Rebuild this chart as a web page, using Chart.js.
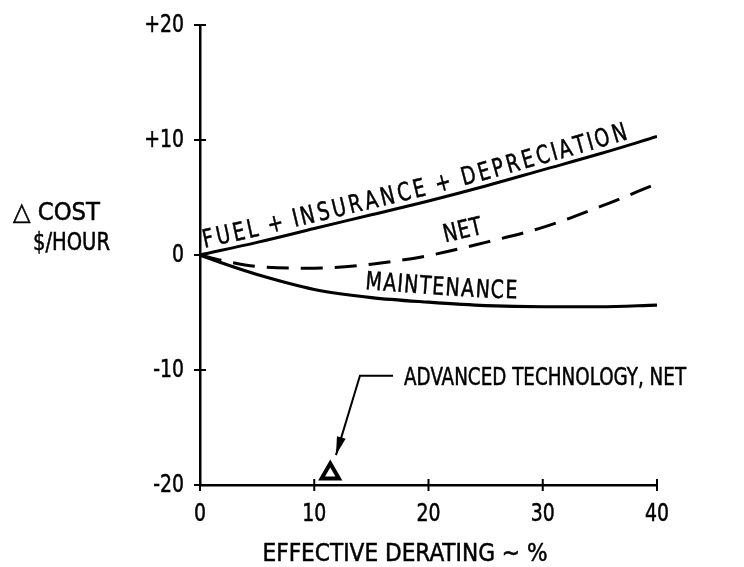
<!DOCTYPE html>
<html>
<head>
<meta charset="utf-8">
<script src="https://cdn.jsdelivr.net/npm/chart.js@4.4.1/dist/chart.umd.min.js"></script>
<style>
  html, body { margin: 0; padding: 0; background: #fff; }
  #wrap { width: 744px; height: 567px; }
</style>
</head>
<body>
<div id="wrap"><canvas id="c" width="744" height="567"></canvas></div>
<script>
// values
const fuelX = [0, 5, 10, 15, 20, 25, 30, 35, 40];
const fuelY = [0, 1.1, 2.3, 3.5, 4.7, 6.0, 7.4, 8.8, 10.3];
const netX = [0, 2.5, 5, 10, 15, 20, 25, 30, 35, 40];
const netY = [0, -0.6, -1.0, -1.15, -0.8, -0.05, 1.1, 2.4, 4.2, 6.2];
const maintX = [0, 2.5, 5, 10, 15, 20, 25, 30, 35, 40];
const maintY = [0, -0.9, -1.7, -3.0, -3.7, -4.1, -4.4, -4.5, -4.5, -4.35];
const advX = [11.4];
const advY = [-19.0];

const xTickValues = [0, 10, 20, 30, 40];
const xTickLabels = ['0', '10', '20', '30', '40'];
const yTickValues = [-20, -10, 0, 10, 20];
const yTickLabels = ['-20', '-10', '0', '+10', '+20'];

const FONT = '"DejaVu Sans Condensed", "Liberation Sans Narrow", sans-serif';
const SIZE = 25;   // cap height about 18px
const SQ = 0.84;   // lettering is narrow
const pts = (xs, ys) => xs.map((x, i) => ({ x, y: ys[i] }));

// text squeezed horizontally; y is the middle of the capitals
function put(ctx, text, x, y, align, width) {
  ctx.save();
  ctx.font = SIZE + 'px ' + FONT;
  ctx.textBaseline = 'alphabetic';
  ctx.textAlign = 'left';
  ctx.lineWidth = 0.5;
  const w = ctx.measureText(text).width;
  const sx = width ? width / w : SQ;
  const left = align === 'right' ? x - w * sx : align === 'center' ? x - w * sx / 2 : x;
  ctx.translate(left, y + 9);
  ctx.scale(sx, 1);
  ctx.fillText(text, 0, 0);
  ctx.strokeText(text, 0, 0);
  ctx.restore();
}

// write text along a dataset's line, spread between two x values
function textAlong(chart, dsIndex, text, x0, x1, offset) {
  const ctx = chart.ctx;
  const p = chart.getDatasetMeta(dsIndex).data.map(e => ({ x: e.x, y: e.y }));
  const cum = [0];
  for (let i = 1; i < p.length; i++) cum.push(cum[i - 1] + Math.hypot(p[i].x - p[i - 1].x, p[i].y - p[i - 1].y));
  const at = s => {
    let i = 1;
    while (i < p.length - 1 && cum[i] < s) i++;
    const t = (s - cum[i - 1]) / (cum[i] - cum[i - 1]);
    const dx = p[i].x - p[i - 1].x, dy = p[i].y - p[i - 1].y;
    return { x: p[i - 1].x + dx * t, y: p[i - 1].y + dy * t, a: Math.atan2(dy, dx) };
  };
  const sOf = px => {
    for (let i = 1; i < p.length; i++) {
      if (px <= p[i].x) {
        const t = (px - p[i - 1].x) / (p[i].x - p[i - 1].x);
        return cum[i - 1] + t * (cum[i] - cum[i - 1]);
      }
    }
    return cum[cum.length - 1];
  };
  const xs = chart.scales.x;
  const s0 = sOf(xs.getPixelForValue(x0)), s1 = sOf(xs.getPixelForValue(x1));
  ctx.save();
  ctx.font = SIZE + 'px ' + FONT;
  ctx.fillStyle = '#000';
  ctx.strokeStyle = '#000';
  ctx.lineWidth = 0.5;
  ctx.textAlign = 'center';
  ctx.textBaseline = 'alphabetic';
  const ws = [...text].map(ch => ctx.measureText(ch).width * SQ);
  const W = ws.reduce((a, b) => a + b, 0);
  const k = (s1 - s0) / W;
  let c = 0;
  [...text].forEach((ch, i) => {
    const q = at(s0 + (c + ws[i] / 2) * k);
    c += ws[i];
    ctx.save();
    ctx.translate(q.x + Math.sin(q.a) * offset, q.y - Math.cos(q.a) * offset);
    ctx.rotate(q.a);
    ctx.scale(SQ, 1);
    ctx.fillText(ch, 0, 0);
    ctx.strokeText(ch, 0, 0);
    ctx.restore();
  });
  ctx.restore();
}

const labelsPlugin = {
  id: 'labels',
  afterDatasetsDraw(chart) {
    const ctx = chart.ctx;
    const xs = chart.scales.x, ys = chart.scales.y;
    ctx.save();
    ctx.fillStyle = '#000';
    ctx.strokeStyle = '#000';

    // tick marks crossing the axes, and their labels
    ctx.lineWidth = 2;
    ctx.beginPath();
    xTickValues.forEach((v, i) => {
      const px = xs.getPixelForValue(v);
      ctx.moveTo(px, ys.bottom - 6); ctx.lineTo(px, ys.bottom + 6);
      put(ctx, xTickLabels[i], px, ys.bottom + 27, 'center');
    });
    yTickValues.forEach((v, i) => {
      const py = ys.getPixelForValue(v);
      ctx.moveTo(xs.left - 6, py); ctx.lineTo(xs.left + 6, py);
      put(ctx, yTickLabels[i], xs.left - 16, py - 2, 'right');
    });
    ctx.lineWidth = 2;
    ctx.stroke();

    textAlong(chart, 0, 'FUEL + INSURANCE + DEPRECIATION', 0.4, 37.8, 6);
    textAlong(chart, 1, 'NET', 21.6, 25.0, 9);
    textAlong(chart, 2, 'MAINTENANCE', 14.3, 27.8, 8);

    // annotation with leader arrow
    ctx.lineWidth = 2;
    const a = { x: xs.getPixelForValue(16.9), y: ys.getPixelForValue(-10.5) };
    const b = { x: xs.getPixelForValue(14.0), y: ys.getPixelForValue(-10.5) };
    const tip = { x: xs.getPixelForValue(11.9), y: ys.getPixelForValue(-17.4) };
    ctx.beginPath();
    ctx.moveTo(a.x, a.y); ctx.lineTo(b.x, b.y); ctx.lineTo(tip.x, tip.y);
    ctx.stroke();
    const ang = Math.atan2(tip.y - b.y, tip.x - b.x);
    ctx.beginPath();
    ctx.moveTo(tip.x, tip.y);
    ctx.lineTo(tip.x - 19 * Math.cos(ang - 0.24), tip.y - 19 * Math.sin(ang - 0.24));
    ctx.lineTo(tip.x - 19 * Math.cos(ang + 0.24), tip.y - 19 * Math.sin(ang + 0.24));
    ctx.closePath();
    ctx.fill();
    put(ctx, 'ADVANCED TECHNOLOGY, NET', a.x + 11, a.y, 'left', 282);

    // axis titles
    put(ctx, '\u25B3 COST', 13, 211, 'left', 87);
    put(ctx, '$/HOUR', 33, 241, 'left', 77);
    put(ctx, 'EFFECTIVE DERATING \u223C %', 405, 552, 'center', 285);
    ctx.restore();
  }
};

new Chart(document.getElementById('c'), {
  type: 'line',
  data: {
    datasets: [
      { data: pts(fuelX, fuelY), borderColor: '#000', borderWidth: 3, pointRadius: 0, cubicInterpolationMode: 'monotone', fill: false },
      { data: pts(netX, netY), borderColor: '#000', borderWidth: 3, borderDash: [22, 12], pointRadius: 0, cubicInterpolationMode: 'monotone', fill: false },
      { data: pts(maintX, maintY), borderColor: '#000', borderWidth: 3.2, pointRadius: 0, cubicInterpolationMode: 'monotone', fill: false },
      { data: pts(advX, advY), showLine: false, pointStyle: 'triangle', pointRadius: 10, borderColor: '#000', borderWidth: 4, backgroundColor: '#fff' }
    ]
  },
  options: {
    responsive: false,
    animation: false,
    layout: { padding: { left: 0, top: 25, right: 87, bottom: 0 } },
    plugins: { legend: { display: false }, tooltip: { enabled: false } },
    scales: {
      x: {
        type: 'linear', min: 0, max: 40,
        afterFit: s => { s.height = 82; },
        afterBuildTicks: s => { s.ticks = xTickValues.map(v => ({ value: v })); },
        border: { display: true, color: '#000', width: 2.5 },
        grid: { display: false },
        ticks: { display: false }
      },
      y: {
        type: 'linear', min: -20, max: 20,
        afterFit: s => { s.width = 200; },
        afterBuildTicks: s => { s.ticks = yTickValues.map(v => ({ value: v })); },
        border: { display: true, color: '#000', width: 2.5 },
        grid: { display: false },
        ticks: { display: false }
      }
    }
  },
  plugins: [labelsPlugin]
});
</script>
</body>
</html>
